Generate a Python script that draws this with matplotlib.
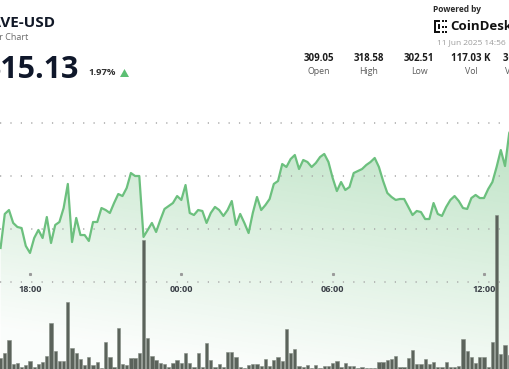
import numpy as np
import pandas as pd
import matplotlib
matplotlib.use("Agg")
import matplotlib.pyplot as plt
import matplotlib.dates as mdates
from matplotlib.patches import Polygon, Rectangle
import matplotlib.transforms as mtransforms
from matplotlib import font_manager

# ---------------- data ----------------
start_time = "2025-06-10 16:50"
prices = [
    308.21, 311.42, 311.79, 310.57, 310.19, 310.09, 308.40, 307.74, 309.15, 309.91,
    309.15, 311.13, 308.68, 310.38, 310.66, 311.98, 314.25, 308.77, 311.04, 309.43,
    309.43, 308.87, 310.66, 310.66, 311.98, 311.79, 311.51, 312.45, 313.30, 313.11,
    313.87, 315.28, 315.00, 315.00, 309.25, 309.91, 310.57, 309.72, 310.85, 311.89,
    312.17, 312.45, 313.11, 312.74, 314.15, 311.51, 311.32, 311.79, 311.70, 310.57,
    311.51, 312.08, 311.79, 311.23, 311.79, 312.64, 310.38, 311.42, 310.57, 309.62,
    311.51, 313.02, 311.79, 312.26, 312.83, 314.25, 314.53, 316.13, 315.85, 316.60,
    316.98, 315.66, 316.51, 316.32, 315.85, 316.23, 316.79, 317.08, 316.32, 314.81,
    313.58, 314.43, 313.68, 313.96, 315.28, 315.47, 315.66, 316.04, 316.32, 316.70,
    315.85, 314.53, 313.40, 313.02, 312.74, 312.83, 312.83, 312.08, 311.32, 311.70,
    311.60, 310.94, 310.94, 312.45, 311.42, 311.23, 312.08, 312.74, 313.11, 312.64,
    311.98, 311.89, 312.92, 313.21, 312.92, 312.92, 313.77, 314.43, 315.85, 317.45,
    315.94, 319.06, 319.81,
]
volumes_k = [
    1.2, 1.7, 3.0, 0.6, 0.7, 0.3, 0.5, 0.9, 0.3, 0.6,
    0.8, 1.4, 4.7, 1.9, 0.9, 0.9, 6.8, 2.2, 1.7, 1.1,
    0.5, 1.3, 0.5, 0.8, 0.2, 2.8, 1.3, 0.3, 4.2, 0.6,
    0.5, 1.2, 1.2, 1.7, 13.0, 3.2, 1.4, 1.0, 0.7, 0.6,
    0.3, 0.7, 1.0, 0.7, 1.7, 0.7, 0.3, 1.7, 0.3, 2.7,
    1.0, 0.3, 0.6, 0.3, 1.8, 1.8, 1.3, 0.3, 0.2, 0.5,
    0.6, 0.6, 0.4, 1.1, 0.4, 1.0, 1.3, 0.9, 4.1, 1.7,
    2.1, 0.4, 0.3, 0.5, 0.2, 0.5, 0.2, 0.4, 0.4, 0.7,
    0.9, 0.3, 0.7, 0.4, 0.4, 0.2, 0.3, 0.2, 0.2, 0.2,
    0.8, 0.8, 1.0, 1.1, 1.4, 0.3, 0.3, 1.2, 2.0, 0.6,
    0.6, 1.1, 0.6, 0.8, 0.3, 0.3, 0.8, 0.3, 0.3, 0.4,
    3.1, 1.9, 1.3, 0.7, 1.3, 1.3, 0.3, 2.8, 15.5, 1.6,
    2.5, 1.5, 1.0,
]
tick_times = ["2025-06-10 18:00", "2025-06-11 00:00", "2025-06-11 06:00", "2025-06-11 12:00"]
tick_labels = ["18:00", "00:00", "06:00", "12:00"]
grid_levels = [305, 310, 315, 320]
stat_values = ["309.05", "318.58", "302.51", "117.03 K", "36.05 M"]
stat_labels = ["Open", "High", "Low", "Vol", "Vol USD"]
symbol = "AAVE-USD"
subtitle = "24 Hour Chart"
last_price = "315.13"
change_pct = "1.97%"
stamp = "11 Jun 2025 14:56"

# ---------------- figure ----------------
W, H = 510, 369
fig = plt.figure(figsize=(W / 100, H / 100), dpi=100)
fig.patch.set_facecolor("white")
FONT = ["Open Sans", "DejaVu Sans"]
installed = {f.name for f in font_manager.fontManager.ttflist}
BIG = ["Liberation Sans Narrow", "Open Sans"] if "Liberation Sans Narrow" in installed else FONT
big_size = 27.5 if BIG[0] == "Liberation Sans Narrow" else 22

times = pd.date_range(start_time, periods=len(prices), freq="10min")
x = mdates.date2num(times.to_pydatetime())
t18 = mdates.date2num(pd.Timestamp(tick_times[0]).to_pydatetime())
t12 = mdates.date2num(pd.Timestamp(tick_times[-1]).to_pydatetime())
px_per_day = (484 - 30) / (t12 - t18)
xmin = t18 - 30 / px_per_day
xmax = xmin + W / px_per_day

ymin, ymax = 296.792, 331.604

ax = fig.add_axes([0, 0, 1, 1])
ax.set_xlim(xmin, xmax)
ax.set_ylim(ymin, ymax)
ax.axis("off")

# gradient fill under the line
green = np.array([106, 191, 123]) / 255.0
rows, cols = np.mgrid[0:H, 0:W]
alpha = 0.34 - 0.0015 * (rows - 180) + 0.000225 * (cols - 400)
alpha = np.clip(alpha, 0.03, 0.42)
img = np.zeros((H, W, 4))
img[..., 0] = green[0]
img[..., 1] = green[1]
img[..., 2] = green[2]
img[..., 3] = alpha
im = ax.imshow(img, extent=(xmin, xmax, ymin, ymax), aspect="auto",
               origin="upper", zorder=1, interpolation="bilinear")
verts = [(x[0], ymin)] + list(zip(x, prices)) + [(x[-1], ymin)]
clip = Polygon(verts, closed=True, facecolor="none", edgecolor="none",
               transform=ax.transData)
ax.add_patch(clip)
im.set_clip_path(clip)

# dotted grid lines
for g in grid_levels:
    ax.axhline(g, color="#a8a8a8", lw=1.1, ls=(0, (0.8, 6.0)), zorder=2)

# price line
ax.plot(x, prices, color="#6cc07e", lw=1.6, zorder=4, solid_joinstyle="round")

# time labels and tick dots
for t, lab in zip(tick_times, tick_labels):
    tx = mdates.date2num(pd.Timestamp(t).to_pydatetime())
    ax.plot([tx], [305.75], marker="s", ms=1.2, color="#9a9a9a", zorder=3)
    ax.text(tx, 304.32, lab, ha="center", va="center", fontsize=6.6,
            fontweight="bold", color="#3a3f47", family=FONT, zorder=5)

# volume bars
axv = fig.add_axes([0, 0, 1, 1], sharex=ax)
axv.patch.set_alpha(0)
axv.set_ylim(0.1, 37.0)
axv.axis("off")
axv.bar(x, volumes_k, width=0.78 / 144, color="#5b635b", edgecolor="#848c84",
        linewidth=0.4, zorder=3)

# ---------------- header ----------------
pxT = mtransforms.Affine2D().scale(1 / W, -1 / H).translate(0, 1) + fig.transFigure

fig.text(55, 23, symbol, transform=pxT, ha="right", va="center", fontsize=11,
         fontweight="bold", color="#111827", family=FONT)
fig.text(28, 37, subtitle, transform=pxT, ha="right", va="center", fontsize=6.5,
         color="#6b6b6b", family=FONT)
fig.text(79.5, 78, last_price, transform=pxT, ha="right", va="baseline",
         fontsize=big_size, fontweight="bold", color="#0f172a", family=BIG)
fig.text(88, 72.5, change_pct, transform=pxT, ha="left", va="center", fontsize=6.8,
         fontweight="bold", color="#333333", family=FONT)
tri = Polygon([(120, 77), (129, 77), (124.5, 69)], closed=True, transform=pxT,
              facecolor="#5cbf73", edgecolor="none")
fig.add_artist(tri)

fig.text(433, 9.5, "Powered by", transform=pxT, ha="left", va="center",
         fontsize=6, fontweight="bold", color="#2b2b2b", family=FONT)
# CoinDesk mark
for (rx, ry, rw, rh) in [(434, 20, 2.2, 13), (434, 20, 6, 2.2), (434, 30.8, 6, 2.2),
                         (442, 20, 2, 2), (445, 20, 2, 2), (442, 25.5, 2, 2),
                         (445, 25.5, 2, 2), (442, 31, 2, 2), (445, 31, 2, 2),
                         (438, 24, 2, 5)]:
    fig.add_artist(Rectangle((rx, ry + rh), rw, -rh, transform=pxT,
                             facecolor="#111111", edgecolor="none"))
fig.text(450, 27, "CoinDesk", transform=pxT, ha="left", va="center",
         fontsize=9.5, fontweight="bold", color="#111111", family=FONT)
fig.text(437, 43, stamp, transform=pxT, ha="left", va="center", fontsize=6,
         color="#9c9c9c", family=FONT)

stat_centers = [318.5, 369, 419, 471, 521]
for cx, v, lab in zip(stat_centers, stat_values, stat_labels):
    fig.text(cx, 58.5, v, transform=pxT, ha="center", va="center", fontsize=7,
             fontweight="bold", color="#1c1c1c", family=FONT)
    fig.text(cx, 71.5, lab, transform=pxT, ha="center", va="center", fontsize=6.3,
             color="#5a5a5a", family=FONT)

fig.savefig("out.png", dpi=100)
